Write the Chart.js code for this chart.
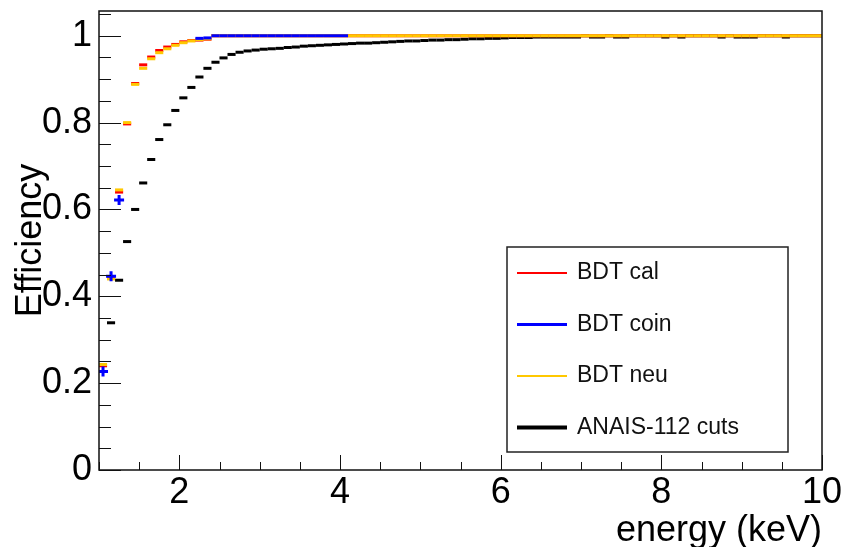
<!DOCTYPE html>
<html lang="en">
<head>
<meta charset="UTF-8">
<title>Efficiency vs energy</title>
<script src="https://cdn.jsdelivr.net/npm/chart.js"></script>
<style>
  html, body { margin: 0; padding: 0; background: #fff; }
  #wrap { width: 845px; height: 547px; }
</style>
</head>
<body>
<div id="wrap"><canvas id="effChart"></canvas></div>
<script>
// bin centres in keV (0.1 keV bins from 1 to 10)
const energies = [
  1.05, 1.15, 1.25, 1.35, 1.45, 1.55, 1.65, 1.75, 1.85, 1.95,
  2.05, 2.15, 2.25, 2.35, 2.45, 2.55, 2.65, 2.75, 2.85, 2.95,
  3.05, 3.15, 3.25, 3.35, 3.45, 3.55, 3.65, 3.75, 3.85, 3.95,
  4.05, 4.15, 4.25, 4.35, 4.45, 4.55, 4.65, 4.75, 4.85, 4.95,
  5.05, 5.15, 5.25, 5.35, 5.45, 5.55, 5.65, 5.75, 5.85, 5.95,
  6.05, 6.15, 6.25, 6.35, 6.45, 6.55, 6.65, 6.75, 6.85, 6.95,
  7.05, 7.15, 7.25, 7.35, 7.45, 7.55, 7.65, 7.75, 7.85, 7.95,
  8.05, 8.15, 8.25, 8.35, 8.45, 8.55, 8.65, 8.75, 8.85, 8.95,
  9.05, 9.15, 9.25, 9.35, 9.45, 9.55, 9.65, 9.75, 9.85, 9.95
];

const seriesNames = ['BDT cal', 'BDT coin', 'BDT neu', 'ANAIS-112 cuts'];

const calEff = [
  0.240, 0.442, 0.640, 0.797, 0.890, 0.933, 0.951, 0.966, 0.974, 0.980,
  0.986, 0.989, 0.990, 0.992, 1, 1, 1, 1, 1, 1,
  1, 1, 1, 1, 1, 1, 1, 1, 1, 1,
  1, 1, 1, 1, 1, 1, 1, 1, 1, 1,
  1, 1, 1, 1, 1, 1, 1, 1, 1, 1,
  1, 1, 1, 1, 1, 1, 1, 1, 1, 1,
  1, 1, 1, 1, 1, 1, 1, 1, 1, 1,
  1, 1, 1, 1, 1, 1, 1, 1, 1, 1,
  1, 1, 1, 1, 1, 1, 1, 1, 1, 1
];

const coinEff = [
  0.227, 0.446, 0.622, null, null, null, null, null, null, null,
  null, null, 0.994, 0.995, 1, 1, 1, 1, 1, 1,
  1, 1, 1, 1, 1, 1, 1, 1, 1, 1,
  1, null, null, null, null, null, null, null, null, null,
  null, null, null, null, null, null, null, null, null, null,
  null, null, null, null, null, null, null, null, null, null,
  null, null, null, null, null, null, null, null, null, null,
  null, null, null, null, null, null, null, null, null, null,
  null, null, null, null, null, null, null, null, null, null
];

const neuEff = [
  0.243, 0.440, 0.645, 0.800, 0.888, 0.925, 0.947, 0.961, 0.970, 0.978,
  0.984, 0.988, 0.991, 0.993, 1, 1, 1, 1, 1, 1,
  1, 1, 1, 1, 1, 1, 1, 1, 1, 1,
  1, 1, 1, 1, 1, 1, 1, 1, 1, 1,
  1, 1, 1, 1, 1, 1, 1, 1, 1, 1,
  1, 1, 1, 1, 1, 1, 1, 1, 1, 1,
  1, 1, 1, 1, 1, 1, 1, 1, 1, 1,
  1, 1, 1, 1, 1, 1, 1, 1, 1, 1,
  1, 1, 1, 1, 1, 1, 1, 1, 1, 1
];

const cutsEff = [
  null, 0.339, 0.437, 0.526, 0.600, 0.661, 0.715, 0.761, 0.795, 0.828,
  0.857, 0.881, 0.905, 0.925, 0.939, 0.949, 0.957, 0.962, 0.965, 0.967,
  0.969, 0.970, 0.971, 0.973, 0.974, 0.976, 0.977, 0.978, 0.979, 0.980,
  0.981, 0.982, 0.983, 0.983, 0.984, 0.985, 0.986, 0.987, 0.988, 0.988,
  0.989, 0.990, 0.990, 0.991, 0.991, 0.992, 0.993, 0.993, 0.994, 0.994,
  0.995, 0.996, 0.996, 0.996, 0.997, 0.997, 0.997, 0.997, 0.997, 0.997,
  1, 0.997, 0.997, 1, 0.997, 0.997, 1, 1, 1, 1,
  0.997, 1, 0.997, 1, 1, 1, 1, 0.997, 1, 0.997,
  0.997, 0.997, 1, 1, 1, 0.997, 1, 1, 1, 1
];

const FONT = "'Liberation Sans', Arial, Helvetica, sans-serif";

function toPoints(values) {
  return energies.map((e, i) => ({ x: e, y: values[i] }));
}

// each bin drawn as a horizontal bar one bin wide (ROOT style)
function binSeries(label, values, color, drawOrder, legendWidth) {
  return {
    label: label,
    data: toPoints(values),
    showLine: false,
    borderColor: color,
    backgroundColor: color,
    pointStyle: 'line',
    pointRadius: 4.05,
    pointBorderWidth: 3,
    order: drawOrder,
    legendWidth: legendWidth
  };
}

const datasets = [
  binSeries(seriesNames[0], calEff, '#ff0000', 2, 2),
  binSeries(seriesNames[1], coinEff, '#0000ff', 0, 3),
  binSeries(seriesNames[2], neuEff, '#ffc800', 1, 2),
  binSeries(seriesNames[3], cutsEff, '#000000', 3, 4)
];
// low-energy coin points show their error bars as a cross
datasets[1].pointStyle = ctx => ctx.dataIndex < 3 ? 'cross' : 'line';
datasets[1].pointRadius = ctx => ctx.dataIndex < 3 ? 5 : 4.05;

function isMultiple(v, step) {
  return Math.abs(v / step - Math.round(v / step)) < 1e-6;
}

// frame, inward tick marks and the boxed legend
const rootStyle = {
  id: 'rootStyle',
  afterDatasetsDraw(chart) {
    const ctx = chart.ctx;
    const area = chart.chartArea;
    const xs = chart.scales.x;
    const ys = chart.scales.y;
    ctx.save();
    ctx.strokeStyle = '#111';
    ctx.lineWidth = 1;
    ys.ticks.forEach(t => {
      const y = Math.round(ys.getPixelForValue(t.value)) + 0.5;
      const len = isMultiple(t.value, 0.2) ? 22 : 12;
      ctx.beginPath();
      ctx.moveTo(area.left, y);
      ctx.lineTo(area.left + len, y);
      ctx.stroke();
    });
    xs.ticks.forEach(t => {
      const x = Math.round(xs.getPixelForValue(t.value)) + 0.5;
      const len = isMultiple(t.value, 2) ? 15 : 8;
      ctx.beginPath();
      ctx.moveTo(x, area.bottom);
      ctx.lineTo(x, area.bottom - len);
      ctx.stroke();
    });
    ctx.lineWidth = 1.5;
    ctx.strokeRect(area.left, area.top, area.right - area.left, area.bottom - area.top);

    // legend box
    const box = { x: 507, y: 247, w: 281, h: 205 };
    ctx.fillStyle = '#fff';
    ctx.fillRect(box.x, box.y, box.w, box.h);
    ctx.lineWidth = 1.5;
    ctx.strokeStyle = '#222';
    ctx.strokeRect(box.x, box.y, box.w, box.h);
    ctx.font = '23px ' + FONT;
    ctx.textBaseline = 'middle';
    ctx.textAlign = 'left';
    chart.data.datasets.forEach((ds, i) => {
      const y = box.y + 26 + i * 51.5;
      ctx.strokeStyle = ds.borderColor;
      ctx.lineWidth = ds.legendWidth;
      ctx.beginPath();
      ctx.moveTo(box.x + 10, y);
      ctx.lineTo(box.x + 60, y);
      ctx.stroke();
      ctx.fillStyle = '#111';
      ctx.fillText(ds.label, box.x + 70, y);
    });
    ctx.restore();
  }
};

new Chart(document.getElementById('effChart'), {
  type: 'line',
  data: { datasets: datasets },
  options: {
    responsive: true,
    maintainAspectRatio: false,
    animation: false,
    events: [],
    layout: { padding: { top: 11, right: 23, left: 0, bottom: 0 } },
    plugins: { legend: { display: false }, tooltip: { enabled: false } },
    scales: {
      x: {
        type: 'linear',
        min: 1,
        max: 10,
        grid: { display: false, drawTicks: false },
        border: { display: false },
        ticks: {
          stepSize: 0.5,
          autoSkip: false,
          maxRotation: 0,
          padding: 1,
          color: '#000',
          font: { family: FONT, size: 36 },
          callback: v => isMultiple(v, 2) ? String(v) : ''
        },
        title: {
          display: true,
          text: 'energy (keV)',
          align: 'end',
          color: '#000',
          padding: { top: 0, bottom: 0 },
          font: { family: FONT, size: 36, lineHeight: 0.9 }
        },
        afterFit(scale) {
          scale.height = 77;
          scale.paddingLeft = 0;
          scale.paddingRight = 0;
        }
      },
      y: {
        type: 'linear',
        min: 0,
        max: 1.057,
        grid: { display: false, drawTicks: false },
        border: { display: false },
        ticks: {
          stepSize: 0.05,
          includeBounds: false,
          autoSkip: false,
          padding: 7,
          color: '#000',
          font: { family: FONT, size: 36 },
          callback: v => isMultiple(v, 0.2) ? String(Math.round(v * 10) / 10) : ''
        },
        title: {
          display: true,
          text: 'Efficiency',
          color: '#000',
          padding: { top: 13, bottom: 0 },
          font: { family: FONT, size: 36, lineHeight: 1 }
        },
        afterFit(scale) {
          scale.width = 99;
          scale.paddingTop = 0;
          scale.paddingBottom = 0;
        }
      }
    }
  },
  plugins: [rootStyle]
});
</script>
</body>
</html>
